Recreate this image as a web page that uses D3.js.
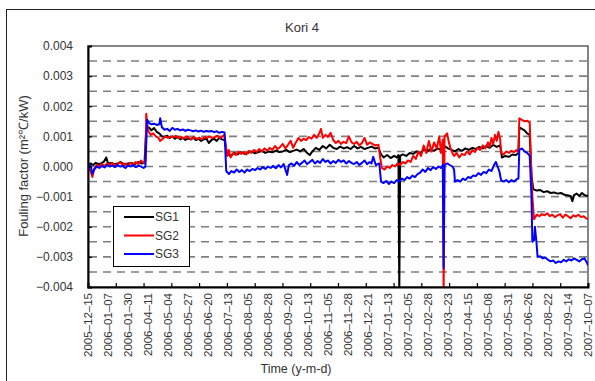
<!DOCTYPE html>
<html>
<head>
<meta charset="utf-8">
<script src="https://cdn.jsdelivr.net/npm/d3@7"></script>
<style>
  body { margin: 0; background: #fff; }
  text { font-family: "Liberation Sans", Arial, sans-serif; fill: #333; }
</style>
</head>
<body>
<div id="chart"></div>
<script>
// fouling factor of the 3 steam generators, values in 1e-3 m2C/kW
// each point is [row, value], rows are daily records (gaps skipped)

const title = "Kori 4";

const dateLabels = [
  "2005-12-15", "2006-01-07", "2006-01-30", "2006-04-11", "2006-05-04",
  "2006-05-27", "2006-06-20", "2006-07-13", "2006-08-05", "2006-08-28",
  "2006-09-20", "2006-10-13", "2006-11-05", "2006-11-28", "2006-12-21",
  "2007-01-13", "2007-02-05", "2007-02-28", "2007-03-23", "2007-04-15",
  "2007-05-08", "2007-05-31", "2007-06-26", "2007-08-22", "2007-09-14",
  "2007-10-07",
];
const labelEvery = 23; // rows between two labels
const totalRows = 575;
const tickCount = 18;

const yTicks = [-4, -3, -2, -1, 0, 1, 2, 3, 4];
const yGrid = [-3.5, -3, -2.5, -2, -1.5, -1, -0.5, 0, 0.5, 1, 1.5, 2, 2.5, 3, 3.5];

const seriesNames = ["SG1", "SG2", "SG3"];

const sg1 = [
  [0,0.0],[3,0.1],[6,0.05],[9,0.12],[12,0.08],[15,0.1],[18,0.15],[21,0.3],[23,0.1],[26,0.12],
  [30,0.08],[34,0.1],[38,0.14],[42,0.06],[46,0.1],[50,0.12],[54,0.08],[58,0.15],[62,0.1],[65,0.12],
  [67,1.25],[70,1.3],[73,1.2],[76,1.28],[79,1.15],[82,1.1],[85,1.0],[88,0.98],[91,1.02],[94,0.95],
  [97,1.0],[100,0.92],[103,0.98],[106,0.9],[109,0.95],[112,0.88],[115,0.93],[118,0.9],[121,0.96],
  [124,0.88],[127,0.92],[130,0.85],[133,0.9],[136,0.93],[139,0.78],[142,0.88],[145,0.92],[148,0.85],
  [151,0.95],[154,0.9],[157,0.88],
  [160,0.42],[164,0.35],[168,0.45],[172,0.4],[176,0.48],[180,0.42],[184,0.45],[188,0.5],[192,0.44],
  [196,0.48],[200,0.52],[204,0.45],[208,0.5],[212,0.47],[216,0.53],[220,0.48],[224,0.5],[228,0.55],
  [232,0.48],[236,0.52],[240,0.56],[244,0.5],[248,0.58],[252,0.45],[255,0.38],[258,0.5],[262,0.62],
  [266,0.55],[270,0.68],[274,0.6],[278,0.72],[282,0.62],[286,0.58],[290,0.66],[294,0.6],[298,0.64],
  [302,0.58],[306,0.68],[310,0.6],[314,0.65],[318,0.58],[322,0.62],[326,0.66],[330,0.6],[334,0.62],
  [337,0.4],[340,0.3],[344,0.38],[348,0.28],[352,0.35],[355,0.3],[357,0.38],[358,-4.2],[359,0.35],
  [362,0.4],[366,0.35],[370,0.45],[374,0.42],[378,0.5],[382,0.45],[386,0.55],[390,0.5],[394,0.58],
  [398,0.52],[402,0.6],[406,0.55],[410,0.68],[414,0.6],[418,0.55],[422,0.5],[426,0.58],[430,0.52],
  [434,0.6],[438,0.55],[442,0.62],[446,0.58],[450,0.65],[454,0.6],[458,0.68],[462,0.62],[466,0.72],
  [470,0.65],[474,0.7],
  [476,0.3],[480,0.35],[484,0.32],[488,0.4],[492,0.38],[495,0.45],
  [496,1.3],[499,1.25],[502,1.2],[505,1.1],[508,1.05],
  [510,-0.3],[512,-0.75],[516,-0.8],[520,-0.78],[524,-0.85],[528,-0.82],[532,-0.88],[536,-0.86],
  [540,-0.9],[544,-0.88],[548,-0.94],[552,-0.96],[555,-0.98],[557,-1.15],[559,-0.95],[562,-0.9],
  [565,-0.98],[568,-0.88],[571,-0.95],[575,-0.98],
];

const sg2 = [
  [0,0.0],[3,-0.15],[5,-0.35],[7,-0.1],[10,0.05],[13,0.0],[16,0.08],[19,0.02],[22,0.1],[25,0.05],
  [28,0.12],[31,0.02],[34,0.08],[37,0.15],[40,0.05],[43,0.1],[46,0.02],[49,0.12],[52,0.05],[55,0.15],
  [58,0.08],[61,0.2],[64,0.12],[66,0.18],
  [67,1.75],[69,1.2],[72,1.05],[75,1.1],[78,1.0],[81,0.95],[83,0.85],[86,0.92],[89,1.0],[92,0.95],
  [95,1.0],[98,0.97],[101,1.02],[104,0.95],[107,0.98],[110,0.93],[113,1.0],[116,0.95],[119,0.9],
  [122,0.98],[125,0.92],[128,0.96],[131,0.9],[134,0.98],[137,0.95],[140,1.0],[143,0.94],[146,0.98],
  [149,1.02],[152,0.95],[155,1.0],[157,1.05],
  [160,0.35],[162,0.55],[164,0.3],[167,0.45],[170,0.38],[173,0.5],[176,0.42],[179,0.48],[182,0.4],
  [185,0.52],[188,0.45],[191,0.55],[194,0.48],[197,0.58],[200,0.5],[203,0.6],[206,0.52],[209,0.62],
  [212,0.55],[215,0.68],[218,0.58],[221,0.65],[224,0.75],[227,0.6],[230,0.72],[233,0.85],[236,0.62],
  [239,0.8],[242,0.95],[245,0.85],[248,0.92],[251,0.88],[254,0.98],[257,0.92],[260,1.05],[263,0.95],
  [266,1.1],[268,1.25],[270,0.95],[273,1.05],[276,0.98],[279,1.12],[282,0.88],[285,0.78],[288,0.85],
  [291,0.75],[294,0.82],[297,0.78],[300,1.0],[303,0.8],[306,0.75],[309,0.82],[312,0.7],[315,0.78],
  [318,0.95],[321,0.72],[324,0.8],[327,0.75],[330,0.7],[334,0.72],
  [336,0.3],[338,-0.05],[341,-0.1],[344,0.0],[347,-0.05],[350,0.05],[353,0.0],[356,0.1],[359,0.05],
  [362,0.15],[365,0.1],[368,0.2],[371,0.15],[374,0.35],[377,0.25],[380,0.5],[383,0.35],[386,0.7],
  [389,0.45],[392,0.85],[395,0.5],[398,0.8],[401,0.6],[404,1.0],[406,0.45],[408,0.9],[409,-4.3],
  [410,1.0],[413,1.1],[415,0.8],[417,0.6],[419,0.45],[421,0.35],[424,0.45],[427,0.3],[430,0.42],
  [433,0.38],[436,0.5],[439,0.4],[442,0.55],[445,0.48],[448,0.62],[451,0.55],[454,0.7],[457,0.6],
  [460,0.8],[462,0.65],[464,0.95],[466,0.75],[468,1.05],[470,0.85],[472,1.15],[474,0.9],
  [475,0.45],[478,0.4],[481,0.5],[484,0.45],[487,0.52],[490,0.48],[493,0.55],[495,0.5],
  [496,1.6],[499,1.55],[502,1.5],[505,1.52],[508,1.45],
  [509,0.5],[511,-1.0],[513,-1.75],[516,-1.6],[519,-1.65],[522,-1.58],[525,-1.62],[528,-1.55],
  [531,-1.65],[534,-1.6],[537,-1.68],[540,-1.62],[543,-1.58],[546,-1.7],[549,-1.6],[552,-1.65],
  [555,-1.72],[558,-1.62],[561,-1.66],[564,-1.6],[567,-1.68],[570,-1.65],[573,-1.72],[575,-1.75],
];

const sg3 = [
  [0,-0.05],[3,0.05],[5,-0.25],[7,-0.1],[10,0.0],[13,-0.05],[16,0.02],[19,-0.03],[22,0.05],[25,0.0],
  [28,0.03],[31,-0.02],[34,0.05],[37,0.0],[40,0.02],[43,-0.05],[46,0.03],[49,0.0],[52,0.05],[55,-0.02],
  [58,0.03],[61,0.0],[64,-0.05],[66,0.0],
  [68,1.55],[70,1.45],[73,1.4],[76,1.42],[79,1.38],[82,1.4],[83,1.6],[85,1.3],[88,1.22],[91,1.25],
  [94,1.18],[97,1.28],[100,1.22],[103,1.25],[106,1.2],[109,1.23],[112,1.18],[115,1.22],[118,1.2],
  [121,1.17],[124,1.2],[127,1.16],[130,1.19],[133,1.15],[136,1.18],[139,1.16],[142,1.18],[145,1.14],
  [148,1.17],[151,1.12],[154,1.15],[157,1.13],
  [159,-0.15],[162,-0.25],[165,-0.15],[168,-0.2],[171,-0.1],[174,-0.18],[177,-0.12],[180,-0.2],
  [183,-0.1],[186,-0.15],[189,-0.08],[192,-0.12],[195,-0.05],[198,-0.1],[201,-0.02],[204,-0.08],
  [207,0.0],[210,-0.05],[213,0.02],[216,-0.06],[219,0.05],[222,-0.03],[225,0.08],[227,-0.1],
  [229,-0.28],[231,0.05],[234,0.1],[237,0.02],[240,0.15],[243,0.05],[246,0.12],[249,0.2],[252,0.08],
  [255,0.15],[258,0.22],[261,0.1],[264,0.18],[267,0.12],[270,0.25],[273,0.15],[276,0.2],[279,0.1],
  [282,0.18],[285,0.12],[288,0.22],[291,0.15],[294,0.2],[297,0.1],[300,0.18],[303,0.12],[306,0.08],
  [309,0.15],[312,0.05],[315,0.12],[318,0.2],[321,0.08],[324,0.15],[326,0.1],[328,0.32],[331,0.05],
  [335,0.1],
  [336,-0.2],[337,-0.5],[340,-0.55],[343,-0.48],[346,-0.58],[349,-0.5],[352,-0.55],[355,-0.45],
  [358,-0.5],[361,-0.4],[364,-0.45],[367,-0.35],[370,-0.4],[373,-0.3],[376,-0.35],[379,-0.25],
  [382,-0.2],[385,-0.1],[388,-0.18],[391,-0.05],[394,-0.12],[397,-0.02],[400,-0.08],[403,0.0],
  [406,-0.05],[408,0.05],[409,-3.37],[410,0.05],[413,0.1],[416,0.05],[419,0.0],[421,-0.1],
  [422,-0.5],[425,-0.45],[428,-0.5],[431,-0.4],[434,-0.45],[437,-0.35],[440,-0.38],[443,-0.3],
  [446,-0.32],[449,-0.22],[452,-0.28],[455,-0.18],[458,-0.22],[461,-0.1],[464,-0.15],[467,0.05],
  [469,0.15],[471,0.0],[473,-0.15],[475,-0.45],[478,-0.5],[481,-0.45],[484,-0.52],[487,-0.45],
  [490,-0.5],[493,-0.42],[495,-0.4],
  [496,0.55],[499,0.6],[502,0.5],[505,0.45],[508,0.35],
  [510,-1.0],[511,-2.5],[513,-2.45],[514,-2.0],[516,-2.6],[517,-3.0],[520,-2.98],[523,-3.05],
  [526,-3.02],[529,-3.1],[532,-3.15],[535,-3.12],[538,-3.2],[541,-3.15],[544,-3.18],[547,-3.1],
  [550,-3.15],[553,-3.08],[556,-3.12],[559,-3.05],[562,-3.1],[565,-3.15],[568,-3.08],[571,-3.05],
  [574,-3.2],[575,-3.28],
];

const series = [sg1, sg2, sg3];
const colors = ["#000000", "#ff0000", "#0000ff"];

const W = 595, H = 381;
const plot = { left: 88, right: 588, top: 46, bottom: 287 };

const svg = d3.select("#chart").append("svg")
  .attr("width", W)
  .attr("height", H);

// outer chart border
svg.append("rect")
  .attr("x", 6.5).attr("y", 9.5)
  .attr("width", 600).attr("height", 380)
  .attr("fill", "none").attr("stroke", "#222").attr("stroke-width", 1);

const x = d3.scaleLinear().domain([0, totalRows]).range([plot.left, plot.right]);
const y = d3.scaleLinear().domain([-4, 4]).range([plot.bottom, plot.top]);

// dashed grid
svg.append("g")
  .selectAll("line")
  .data(yGrid)
  .join("line")
  .attr("x1", plot.left + 1).attr("x2", plot.right)
  .attr("y1", (d) => y(d)).attr("y2", (d) => y(d))
  .attr("stroke", "#7f7f7f")
  .attr("stroke-width", 1.6)
  .attr("stroke-dasharray", "8,6");

// plot frame
svg.append("rect")
  .attr("x", plot.left).attr("y", plot.top)
  .attr("width", plot.right - plot.left).attr("height", plot.bottom - plot.top)
  .attr("fill", "none").attr("stroke", "#333").attr("stroke-width", 1.2);

svg.append("clipPath").attr("id", "clip")
  .append("rect")
  .attr("x", plot.left).attr("y", plot.top)
  .attr("width", plot.right - plot.left).attr("height", plot.bottom - plot.top);

const line = d3.line()
  .x((d) => x(d[0]))
  .y((d) => y(d[1]));

svg.append("g")
  .attr("clip-path", "url(#clip)")
  .selectAll("path")
  .data(series)
  .join("path")
  .attr("d", line)
  .attr("fill", "none")
  .attr("stroke", (d, i) => colors[i])
  .attr("stroke-width", 2)
  .attr("stroke-linejoin", "round");

// y axis
const fmt = (d) => (d / 1000).toFixed(3).replace("-", "\u2212");
const yAxis = svg.append("g")
  .attr("transform", `translate(${plot.left},0)`)
  .call(d3.axisLeft(y).tickValues(yTicks).tickSize(-4).tickPadding(15).tickFormat(fmt));
yAxis.select(".domain").attr("stroke", "#000").attr("stroke-width", 2);
yAxis.selectAll(".tick line").attr("stroke", "#000").attr("stroke-width", 1.2);
yAxis.selectAll("text")
  .style("font-family", "Liberation Sans, Arial, sans-serif")
  .style("font-size", "12px")
  .attr("fill", "#333");

// x axis: tick marks
const tickRows = d3.range(tickCount + 1).map((k) => (k * totalRows) / tickCount);
const xAxis = svg.append("g")
  .attr("transform", `translate(0,${plot.bottom})`)
  .call(d3.axisBottom(x).tickValues(tickRows).tickSize(-4).tickFormat(""));
xAxis.select(".domain").attr("stroke", "#000").attr("stroke-width", 2);
xAxis.selectAll(".tick line").attr("stroke", "#000").attr("stroke-width", 1.2);

// x axis: date labels
svg.append("g")
  .selectAll("text")
  .data(dateLabels)
  .join("text")
  .attr("transform", (d, i) => `translate(${x(i * labelEvery)},${plot.bottom + 6}) rotate(-90)`)
  .attr("text-anchor", "end")
  .attr("dy", "0.36em")
  .style("font-size", "11.5px")
  .text((d) => d.replace(/-/g, "\u2013"));

// titles
svg.append("text")
  .attr("x", 302).attr("y", 32)
  .attr("text-anchor", "middle")
  .style("font-size", "13px")
  .text(title);

svg.append("text")
  .attr("x", 296).attr("y", 373)
  .attr("text-anchor", "middle")
  .style("font-size", "12.5px")
  .text("Time (y-m-d)");

svg.append("text")
  .attr("transform", "translate(28,166) rotate(-90)")
  .attr("text-anchor", "middle")
  .style("font-size", "13px")
  .text("Fouling factor (m²℃/kW)");

// legend
const legend = svg.append("g").attr("transform", "translate(113,206)");
legend.append("rect")
  .attr("x", 0.5).attr("y", 0.5)
  .attr("width", 76).attr("height", 60)
  .attr("fill", "#fff").attr("stroke", "#000").attr("stroke-width", 1);

const items = legend.selectAll("g.item")
  .data(seriesNames)
  .join("g")
  .attr("class", "item")
  .attr("transform", (d, i) => `translate(0,${11 + i * 18.5})`);

items.append("line")
  .attr("x1", 11).attr("x2", 41)
  .attr("stroke", (d, i) => colors[i])
  .attr("stroke-width", 2);

items.append("text")
  .attr("x", 42)
  .attr("dy", "0.36em")
  .style("font-size", "12px")
  .text((d) => d);
</script>
</body>
</html>
